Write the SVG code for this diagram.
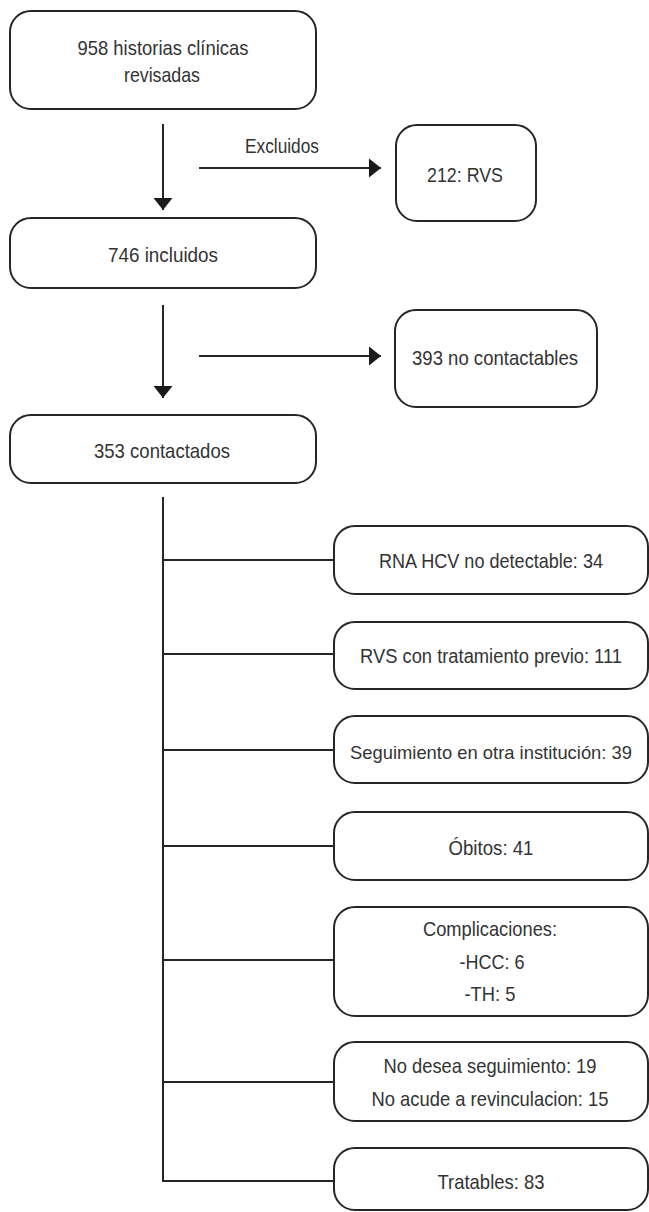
<svg xmlns="http://www.w3.org/2000/svg" width="649" height="1212" viewBox="0 0 649 1212">
<style>
.box{fill:#fff;stroke:#262626;stroke-width:2}
.t{font-family:"Liberation Sans",Arial,sans-serif;font-size:21px;fill:#333;text-anchor:middle}
.ln{fill:none;stroke:#262626;stroke-width:2}
</style>
<defs>
<marker id="ah" markerUnits="userSpaceOnUse" markerWidth="14" markerHeight="20" refX="12" refY="10" orient="auto">
<path d="M0,0.5 L12,10 L0,19.5 Z" fill="#1a1a1a"/>
</marker>
</defs>
<g id="connectors">
<line class="ln" x1="163" y1="124" x2="163" y2="210" marker-end="url(#ah)"/>
<line class="ln" x1="199" y1="168" x2="381" y2="168" marker-end="url(#ah)"/>
<line class="ln" x1="163" y1="305" x2="163" y2="398" marker-end="url(#ah)"/>
<line class="ln" x1="199" y1="356" x2="381" y2="356" marker-end="url(#ah)"/>
<path class="ln" d="M163,497 V1181 H334"/>
<line class="ln" x1="163" y1="560" x2="334" y2="560"/>
<line class="ln" x1="163" y1="654" x2="334" y2="654"/>
<line class="ln" x1="163" y1="750" x2="334" y2="750"/>
<line class="ln" x1="163" y1="846" x2="334" y2="846"/>
<line class="ln" x1="163" y1="960" x2="334" y2="960"/>
<line class="ln" x1="163" y1="1082" x2="334" y2="1082"/>
<text class="t" x="282" y="153" textLength="74" lengthAdjust="spacingAndGlyphs">Excluidos</text>
</g>
<g id="n958">
<rect class="box" x="10" y="11" width="306" height="98" rx="21"/>
<text class="t" x="163" y="54.5" textLength="171" lengthAdjust="spacingAndGlyphs">958 historias clínicas</text>
<text class="t" x="162" y="82" textLength="76" lengthAdjust="spacingAndGlyphs">revisadas</text>
</g>
<g id="n212">
<rect class="box" x="396" y="125" width="140" height="96" rx="21"/>
<text class="t" x="465" y="182" textLength="76" lengthAdjust="spacingAndGlyphs">212: RVS</text>
</g>
<g id="n746">
<rect class="box" x="10" y="218" width="306" height="70" rx="21"/>
<text class="t" x="163" y="262" textLength="110" lengthAdjust="spacingAndGlyphs">746 incluidos</text>
</g>
<g id="n393">
<rect class="box" x="395" y="310" width="202" height="97" rx="21"/>
<text class="t" x="495" y="365" textLength="166" lengthAdjust="spacingAndGlyphs">393 no contactables</text>
</g>
<g id="n353">
<rect class="box" x="10" y="415" width="306" height="68" rx="21"/>
<text class="t" x="162" y="458" textLength="136" lengthAdjust="spacingAndGlyphs">353 contactados</text>
</g>
<g id="nRNA">
<rect class="box" x="334" y="526" width="314" height="68" rx="21"/>
<text class="t" x="491" y="568" textLength="224" lengthAdjust="spacingAndGlyphs">RNA HCV no detectable: 34</text>
</g>
<g id="nRVS">
<rect class="box" x="334" y="622" width="314" height="67" rx="21"/>
<text class="t" x="491" y="663" style="font-size:20px" textLength="262" lengthAdjust="spacingAndGlyphs">RVS con tratamiento previo: 111</text>
</g>
<g id="nSeg">
<rect class="box" x="334" y="716" width="314" height="67" rx="21"/>
<text class="t" x="491" y="759" style="font-size:18.5px" textLength="282" lengthAdjust="spacingAndGlyphs">Seguimiento en otra institución: 39</text>
</g>
<g id="nObitos">
<rect class="box" x="334" y="812" width="314" height="68" rx="21"/>
<text class="t" x="491" y="855" textLength="85" lengthAdjust="spacingAndGlyphs">Óbitos: 41</text>
</g>
<g id="nComp">
<rect class="box" x="334" y="907" width="314" height="109" rx="21"/>
<text class="t" x="490" y="936" textLength="134" lengthAdjust="spacingAndGlyphs">Complicaciones:</text>
<text class="t" x="492" y="969" textLength="65" lengthAdjust="spacingAndGlyphs">-HCC: 6</text>
<text class="t" x="490" y="1001" textLength="51" lengthAdjust="spacingAndGlyphs">-TH: 5</text>
</g>
<g id="nNo">
<rect class="box" x="334" y="1042" width="314" height="79" rx="21"/>
<text class="t" x="490" y="1073" textLength="213" lengthAdjust="spacingAndGlyphs">No desea seguimiento: 19</text>
<text class="t" x="490" y="1106" textLength="237" lengthAdjust="spacingAndGlyphs">No acude a revinculacion: 15</text>
</g>
<g id="nTrat">
<rect class="box" x="334" y="1148" width="314" height="62" rx="21"/>
<text class="t" x="491" y="1189" textLength="107" lengthAdjust="spacingAndGlyphs">Tratables: 83</text>
</g>
</svg>
